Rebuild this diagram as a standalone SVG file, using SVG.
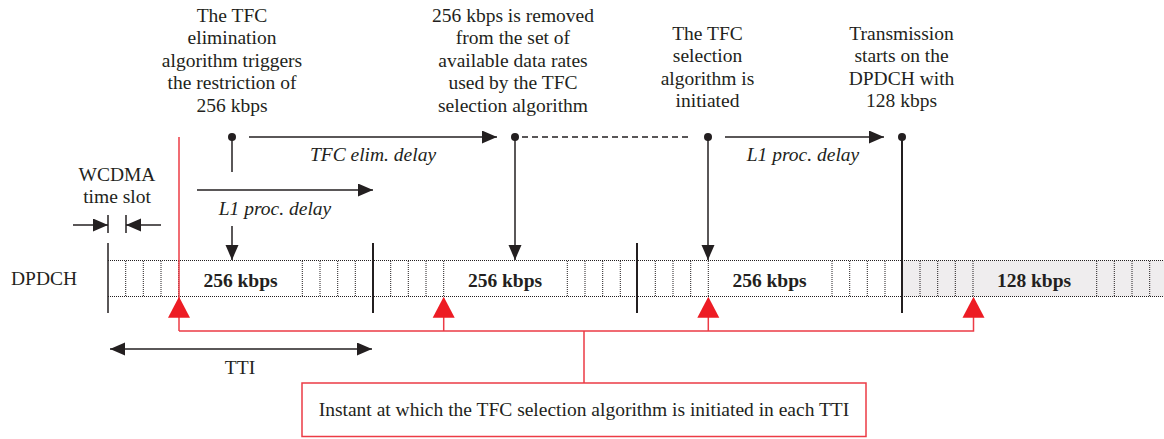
<svg xmlns="http://www.w3.org/2000/svg" width="1164" height="439" viewBox="0 0 1164 439">
  <defs>
    <marker id="arrow" markerUnits="userSpaceOnUse" markerWidth="16" markerHeight="14" refX="15" refY="6.5" orient="auto-start-reverse">
      <path d="M0,0 L15,6.5 L0,13 z" fill="#231f20"/>
    </marker>
    <style>
      text { font-family: "Liberation Serif", "Times New Roman", serif; font-size: 19.5px; fill: #231f20; }
      .c { text-anchor: middle; }
      .it { font-style: italic; }
      .b { font-weight: bold; }
      .ln { stroke: #231f20; stroke-width: 1.5; fill: none; }
      .arr { stroke: #231f20; stroke-width: 1.5; fill: none; marker-end: url(#arrow); }
      .tti { stroke: #231f20; stroke-width: 2; }
      .dot { stroke: #231f20; stroke-width: 1; stroke-dasharray: 1 1; fill: none; }
      .red { stroke: #ec3b45; stroke-width: 1.5; fill: none; }
      .tri { fill: #ed1c24; }
      .pin { fill: #231f20; }
    </style>
  </defs>

  <!-- event labels above the timeline -->
  <g id="label-elim-trigger">
    <text class="c" x="232" y="21.7">The TFC</text>
    <text class="c" x="232" y="44.2">elimination</text>
    <text class="c" x="232" y="66.7">algorithm triggers</text>
    <text class="c" x="232" y="89.2">the restriction of</text>
    <text class="c" x="232" y="111.7">256 kbps</text>
  </g>
  <g id="label-rate-removed">
    <text class="c" x="513" y="21.7">256 kbps is removed</text>
    <text class="c" x="513" y="44.2">from the set of</text>
    <text class="c" x="513" y="66.7">available data rates</text>
    <text class="c" x="513" y="89.2">used by the TFC</text>
    <text class="c" x="513" y="111.7">selection algorithm</text>
  </g>
  <g id="label-selection-start">
    <text class="c" x="707.5" y="40">The TFC</text>
    <text class="c" x="707.5" y="62.2">selection</text>
    <text class="c" x="707.5" y="84.5">algorithm is</text>
    <text class="c" x="707.5" y="106.7">initiated</text>
  </g>
  <g id="label-transmission">
    <text class="c" x="901.5" y="40">Transmission</text>
    <text class="c" x="901.5" y="62.2">starts on the</text>
    <text class="c" x="901.5" y="84.5">DPDCH with</text>
    <text class="c" x="901.5" y="106.7">128 kbps</text>
  </g>

  <!-- DPDCH channel band, four TTIs of 15 slots each -->
  <g id="dpdch">
    <text x="11" y="285">DPDCH</text>
    <rect x="902" y="260.5" width="262" height="36" fill="#efedee"/>
    <line class="dot" x1="108" y1="260.5" x2="1164" y2="260.5"/>
    <line class="dot" x1="108" y1="296.5" x2="1164" y2="296.5"/>
    <g class="dot">
      <path d="M125.7,261V296 M143.3,261V296 M161,261V296 M178.7,261V296 M302.3,261V296 M320,261V296 M337.7,261V296 M355.3,261V296"/>
      <path d="M390.7,261V296 M408.3,261V296 M426,261V296 M443.7,261V296 M567.3,261V296 M585,261V296 M602.7,261V296 M620.3,261V296"/>
      <path d="M655.3,261V296 M673,261V296 M690.7,261V296 M708.3,261V296 M832,261V296 M849.7,261V296 M867.3,261V296 M885,261V296"/>
      <path d="M920,261V296 M937.7,261V296 M955.3,261V296 M973,261V296 M1096.7,261V296 M1114.3,261V296 M1132,261V296 M1149.7,261V296"/>
    </g>
    <line x1="108" y1="243" x2="108" y2="313" stroke="#231f20" stroke-width="1.5"/>
    <line class="tti" x1="373" y1="243" x2="373" y2="313"/>
    <line class="tti" x1="637" y1="243" x2="637" y2="313"/>
    <text class="c b" x="240.5" y="287">256 kbps</text>
    <text class="c b" x="505" y="287">256 kbps</text>
    <text class="c b" x="769.5" y="287">256 kbps</text>
    <text class="c b" x="1034" y="287">128 kbps</text>
  </g>

  <!-- slot and TTI dimensions -->
  <g id="slot-dimension">
    <text class="c" x="117" y="180.7">WCDMA</text>
    <text class="c" x="117" y="202.7">time slot</text>
    <line class="ln" x1="108" y1="215" x2="108" y2="233" stroke-width="1.2"/>
    <line class="ln" x1="126" y1="215" x2="126" y2="233" stroke-width="1.2"/>
    <line class="arr" x1="73" y1="225" x2="108" y2="225"/>
    <line class="arr" x1="161" y1="225" x2="126" y2="225"/>
  </g>
  <g id="tti-dimension">
    <line class="ln" x1="110" y1="349" x2="372" y2="349" marker-start="url(#arrow)" marker-end="url(#arrow)"/>
    <text class="c" x="240" y="374">TTI</text>
  </g>

  <!-- event markers and delays -->
  <g id="connectors">
    <circle class="pin" cx="232" cy="137" r="4"/>
    <circle class="pin" cx="515" cy="137" r="4"/>
    <circle class="pin" cx="708" cy="137" r="4"/>
    <circle class="pin" cx="902" cy="137" r="4"/>
    <line class="ln" x1="232" y1="137" x2="232" y2="172"/>
    <line class="arr" x1="232" y1="226" x2="232" y2="260"/>
    <line class="arr" x1="515" y1="137" x2="515" y2="260"/>
    <line class="arr" x1="708" y1="137" x2="708" y2="260"/>
    <line class="tti" x1="902" y1="137" x2="902" y2="313"/>
    <line class="arr" x1="249" y1="137" x2="497" y2="137"/>
    <line class="ln" x1="522" y1="137" x2="691" y2="137" stroke-dasharray="6 4"/>
    <line class="arr" x1="725" y1="137" x2="884" y2="137"/>
    <line class="arr" x1="197" y1="190" x2="373" y2="190"/>
  </g>
  <g id="delay-labels">
    <text class="c it" x="373" y="161">TFC elim. delay</text>
    <text class="c it" x="275" y="214.5">L1 proc. delay</text>
    <text class="c it" x="803" y="160.5">L1 proc. delay</text>
  </g>

  <!-- TFC selection instants, one per TTI -->
  <g id="selection-instants">
    <line class="red" x1="179" y1="137" x2="179" y2="331"/>
    <path class="red" d="M179,331 H973.5 V317 M443.7,331 V317 M708.3,331 V317 M584,331 V383"/>
    <path class="tri" d="M179,296.7 L190,317.7 L168,317.7 z"/>
    <path class="tri" d="M443.7,296.7 L454.7,317.7 L432.7,317.7 z"/>
    <path class="tri" d="M708.3,296.7 L719.3,317.7 L697.3,317.7 z"/>
    <path class="tri" d="M973.5,296.7 L984.5,317.7 L962.5,317.7 z"/>
  </g>
  <g id="instant-note">
    <rect x="302" y="383" width="564" height="53.5" fill="#ffffff" stroke="#ec3b45" stroke-width="1.5"/>
    <text class="c" x="584" y="416">Instant at which the TFC selection algorithm is initiated in each TTI</text>
  </g>
</svg>
